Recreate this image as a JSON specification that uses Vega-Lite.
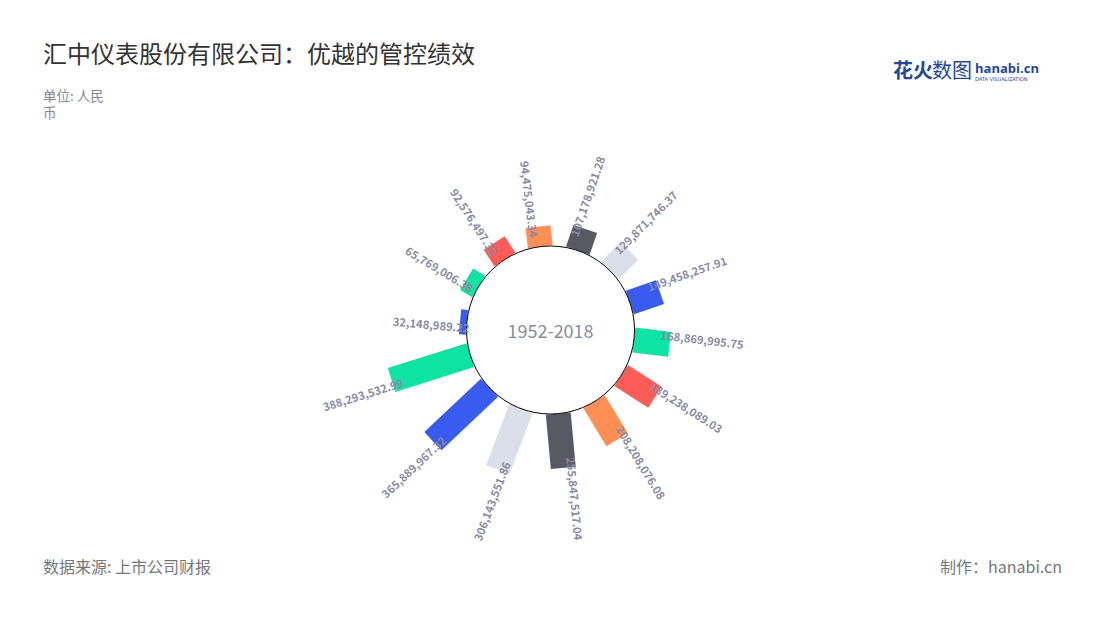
{
  "$schema": "https://vega.github.io/schema/vega-lite/v6.json",
  "autosize": {"type": "none"},
  "width": 1015,
  "height": 494,
  "padding": {"left": 43, "top": 83, "right": 42, "bottom": 43},
  "background": "white",
  "title": {
    "text": "汇中仪表股份有限公司：优越的管控绩效",
    "anchor": "start",
    "frame": "group",
    "offset": 14,
    "dy": 20,
    "fontSize": 24,
    "font": "Noto Sans CJK SC",
    "fontWeight": "normal",
    "color": "#333333"
  },
  "config": {"view": {"stroke": null}, "text": {"font": "Noto Sans CJK SC"}},
  "data": {
    "values": [
      {"value": 32148989.22},
      {"value": 65769006.38},
      {"value": 92576497.32},
      {"value": 94475043.34},
      {"value": 107178921.28},
      {"value": 129871746.37},
      {"value": 149458257.91},
      {"value": 168869995.75},
      {"value": 189238089.03},
      {"value": 208208076.08},
      {"value": 255847517.04},
      {"value": 306143551.86},
      {"value": 365889967.32},
      {"value": 388293532.99}
    ]
  },
  "transform": [
    {"window": [{"op": "rank", "as": "rank"}], "sort": [{"field": "value", "order": "ascending"}]}
  ],
  "layer": [
    {
      "mark": {"type": "arc", "filled": false, "radius2": 84, "strokeWidth": 25, "strokeCap": "butt", "strokeJoin": "miter"},
      "encoding": {
        "theta": {"field": "rank", "type": "quantitative", "stack": null, "scale": {"domain": [0.5, 14.5], "range": [4.57672, 10.91749]}},
        "theta2": {"field": "rank"},
        "radius": {"field": "value", "type": "quantitative", "scale": {"type": "linear", "zero": true, "domain": [0, 400000000], "range": [84, 169.1]}},
        "stroke": {"field": "rank", "type": "ordinal", "scale": {"range": ["#3a5bef", "#0de3a3", "#fd5d56", "#ff8f55", "#595964", "#dadfe9"]}, "legend": null}
      }
    },
    {
      "data": {"values": [{}]},
      "mark": {"type": "arc", "theta": 0, "theta2": 6.2832, "radius": 84, "fill": "white", "stroke": "#000000", "strokeWidth": 1},
      "encoding": {}
    },
    {
      "data": {"values": [{}]},
      "mark": {"type": "text", "text": "1952-2018", "fontSize": 18, "fill": "#8b8ba1", "align": "center", "baseline": "middle", "dy": 3},
      "encoding": {}
    },
    {
      "transform": [{"filter": "datum.rank >= 5 && datum.rank <= 11"}],
      "mark": {"type": "text", "align": "left", "baseline": "middle", "dx": -10, "dy": -7, "fontSize": 11.2, "fontWeight": "bold", "fill": "#8a8aa4"},
      "encoding": {
        "theta": {"field": "rank", "type": "quantitative", "stack": null, "scale": {"domain": [0.5, 14.5], "range": [4.57672, 10.91749]}},
        "radius": {"field": "value", "type": "quantitative", "scale": {"type": "linear", "zero": true, "domain": [0, 400000000], "range": [84, 169.1]}},
        "angle": {"field": "rank", "type": "quantitative", "scale": {"domain": [0.5, 14.5], "range": [172.225, 535.525]}, "legend": null},
        "text": {"field": "value", "type": "quantitative", "format": ",.2f"}
      }
    },
    {
      "transform": [{"filter": "datum.rank <= 4 || datum.rank >= 12"}],
      "mark": {"type": "text", "align": "right", "baseline": "middle", "dx": 10, "dy": 7, "fontSize": 11.2, "fontWeight": "bold", "fill": "#8a8aa4"},
      "encoding": {
        "theta": {"field": "rank", "type": "quantitative", "stack": null, "scale": {"domain": [0.5, 14.5], "range": [4.57672, 10.91749]}},
        "radius": {"field": "value", "type": "quantitative", "scale": {"type": "linear", "zero": true, "domain": [0, 400000000], "range": [84, 169.1]}},
        "angle": {"field": "rank", "type": "quantitative", "scale": {"domain": [0.5, 14.5], "range": [-7.775, 355.525]}, "legend": null},
        "text": {"field": "value", "type": "quantitative", "format": ",.2f"}
      }
    },
    {
      "data": {"values": [{"t": ["单位: 人民", "币"]}]},
      "mark": {"type": "text", "align": "left", "baseline": "alphabetic", "dy": 18, "fontSize": 13.5, "lineHeight": 17, "fill": "#888888"},
      "encoding": {
        "x": {"datum": 0, "type": "quantitative", "scale": {"domain": [0, 1]}, "axis": null},
        "y": {"datum": 1, "type": "quantitative", "scale": {"domain": [0, 1]}, "axis": null},
        "text": {"field": "t"}
      }
    },
    {
      "data": {"values": [{"t": "数据来源: 上市公司财报"}]},
      "mark": {"type": "text", "align": "left", "baseline": "alphabetic", "dy": -4, "fontSize": 16, "fill": "#777777"},
      "encoding": {
        "x": {"datum": 0, "type": "quantitative", "scale": {"domain": [0, 1]}, "axis": null},
        "y": {"datum": 0, "type": "quantitative", "scale": {"domain": [0, 1]}, "axis": null},
        "text": {"field": "t"}
      }
    },
    {
      "data": {"values": [{"t": "制作：hanabi.cn"}]},
      "mark": {"type": "text", "align": "right", "baseline": "alphabetic", "dx": 4, "dy": -4, "fontSize": 16, "fill": "#777777"},
      "encoding": {
        "x": {"datum": 1, "type": "quantitative", "scale": {"domain": [0, 1]}, "axis": null},
        "y": {"datum": 0, "type": "quantitative", "scale": {"domain": [0, 1]}, "axis": null},
        "text": {"field": "t"}
      }
    },
    {
      "data": {"values": [{"t": "花火"}]},
      "mark": {"type": "text", "align": "left", "baseline": "middle", "dx": -165, "dy": -11, "fontSize": 20, "fontWeight": "bold", "fill": "#23479b"},
      "encoding": {
        "x": {"datum": 1, "type": "quantitative", "scale": {"domain": [0, 1]}, "axis": null},
        "y": {"datum": 1, "type": "quantitative", "scale": {"domain": [0, 1]}, "axis": null},
        "text": {"field": "t"}
      }
    },
    {
      "data": {"values": [{"t": "数图"}]},
      "mark": {"type": "text", "align": "left", "baseline": "middle", "dx": -126, "dy": -11, "fontSize": 20, "fontWeight": "normal", "fill": "#23479b"},
      "encoding": {
        "x": {"datum": 1, "type": "quantitative", "scale": {"domain": [0, 1]}, "axis": null},
        "y": {"datum": 1, "type": "quantitative", "scale": {"domain": [0, 1]}, "axis": null},
        "text": {"field": "t"}
      }
    },
    {
      "data": {"values": [{"t": "hanabi.cn"}]},
      "mark": {"type": "text", "align": "left", "baseline": "middle", "dx": -83, "dy": -14, "fontSize": 13, "fontWeight": "bold", "font": "Open Sans", "fill": "#23479b"},
      "encoding": {
        "x": {"datum": 1, "type": "quantitative", "scale": {"domain": [0, 1]}, "axis": null},
        "y": {"datum": 1, "type": "quantitative", "scale": {"domain": [0, 1]}, "axis": null},
        "text": {"field": "t"}
      }
    },
    {
      "data": {"values": [{"t": "DATA VISUALIZATION"}]},
      "mark": {"type": "text", "align": "left", "baseline": "middle", "dx": -83, "dy": -4, "fontSize": 5, "font": "DejaVu Sans", "letterSpacing": 0.6, "fill": "#23479b"},
      "encoding": {
        "x": {"datum": 1, "type": "quantitative", "scale": {"domain": [0, 1]}, "axis": null},
        "y": {"datum": 1, "type": "quantitative", "scale": {"domain": [0, 1]}, "axis": null},
        "text": {"field": "t"}
      }
    }
  ],
  "resolve": {"scale": {"angle": "independent"}}
}
